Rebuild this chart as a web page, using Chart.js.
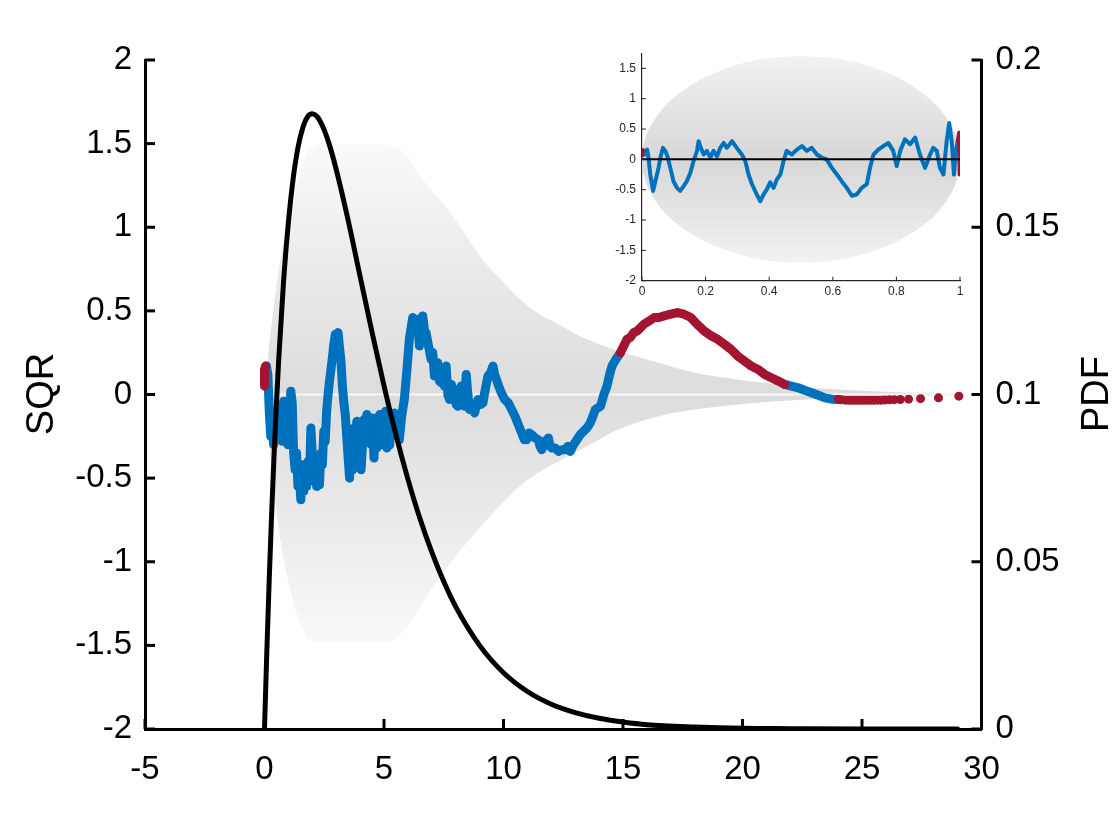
<!DOCTYPE html>
<html>
<head>
<meta charset="utf-8">
<title>SQR / PDF</title>
<script src="https://cdn.jsdelivr.net/npm/chart.js@4.4.1/dist/chart.umd.min.js"></script>
<style>
  body { margin: 0; background: #fff; }
  #wrap { position: relative; width: 1119px; height: 820px; }
  #main { position: absolute; left: 0; top: 0; }
  #inset { position: absolute; left: 590px; top: 40px; }
</style>
</head>
<body>
<div id="wrap">
  <canvas id="main" width="1119" height="820"></canvas>
  <canvas id="inset" width="390" height="270"></canvas>
</div>
<script>
// ---- main plot data ----
const bandX   = [0.08,0.15,0.35,0.55,0.76,1.0,1.32,1.6,1.9,2.5,3.5,4.5,5.5,6.0,6.5,7.3,8.2,9.0,10.0,11.1,12.3,13.5,14.8,16.5,18.0,19.5,21.0,22.5,24.0,26.5,29.3];
const bandUp  = [0,0.2,0.48,0.7,0.89,1.05,1.24,1.38,1.47,1.5,1.5,1.5,1.48,1.42,1.31,1.17,1.0,0.83,0.67,0.52,0.42,0.33,0.26,0.19,0.13,0.095,0.068,0.045,0.03,0.013,0.005];
const bandLow = [0,-0.2,-0.5,-0.75,-0.95,-1.12,-1.3,-1.4,-1.47,-1.48,-1.48,-1.48,-1.46,-1.38,-1.27,-1.1,-0.93,-0.8,-0.64,-0.5,-0.4,-0.31,-0.21,-0.13,-0.09,-0.065,-0.045,-0.032,-0.021,-0.012,-0.005];

const zeroX = [0.1, 29];
const zeroY = [0, 0];

const redStartX = [0.0, 0.0, 0.05];
const redStartY = [0.05, 0.15, 0.17];

const blueX = [
  0.05,0.08,0.14,0.2,0.26,0.32,0.38,0.44,0.5,0.56,
  0.62,0.68,0.74,0.8,0.86,0.92,0.98,1.04,1.1,1.16,
  1.22,1.28,1.34,1.4,1.46,1.52,1.58,1.64,1.7,1.76,
  1.82,1.88,1.94,2.0,2.06,2.12,2.18,2.24,2.3,2.36,
  2.42,2.48,2.54,2.6,2.66,2.72,2.78,2.84,2.9,2.96,
  3.02,3.08,3.14,3.2,3.26,3.32,3.38,3.44,3.5,3.56,
  3.62,3.68,3.74,3.8,3.86,3.92,3.98,4.04,4.1,4.16,
  4.22,4.28,4.34,4.4,4.46,4.52,4.58,4.64,4.7,4.76,
  4.82,4.88,4.94,5.0,5.06,5.12,5.18,5.24,5.3,5.36,
  5.43,5.54,5.64,5.75,5.85,5.96,6.06,6.2,6.3,6.41,
  6.48,6.55,6.62,6.7,6.76,6.85,6.97,7.04,7.11,7.18,
  7.25,7.32,7.39,7.46,7.53,7.6,7.67,7.74,7.82,7.88,
  7.95,8.02,8.09,8.16,8.23,8.3,8.37,8.44,8.51,8.58,
  8.68,8.79,8.93,9.04,9.14,9.25,9.35,9.46,9.56,9.63,
  9.7,9.8,9.91,10.05,10.2,10.34,10.48,10.62,10.76,10.87,
  10.97,11.08,11.18,11.32,11.46,11.53,11.6,11.74,11.88,11.95,
  12.02,12.16,12.3,12.44,12.58,12.69,12.79,12.93,13.07,13.21,
  13.35,13.49,13.63,13.74,13.84,13.95,14.06,14.2,14.33,14.44,
  14.54,14.7,14.89
];
const blueY = [
  0.17,0.17,0.12,-0.1,-0.25,-0.2,-0.3,-0.12,-0.22,-0.08,
  -0.26,-0.15,-0.28,-0.04,-0.2,-0.1,-0.3,-0.2,0.02,-0.05,
  -0.35,-0.45,-0.35,-0.55,-0.48,-0.63,-0.42,-0.58,-0.45,-0.55,
  -0.4,-0.52,-0.2,-0.35,-0.5,-0.38,-0.55,-0.4,-0.54,-0.35,
  -0.42,-0.22,-0.28,-0.1,0.0,0.08,0.15,0.22,0.3,0.36,
  0.3,0.37,0.28,0.2,0.05,-0.05,-0.12,-0.25,-0.38,-0.5,
  -0.3,-0.45,-0.2,-0.35,-0.16,-0.4,-0.2,-0.45,-0.3,-0.15,
  -0.28,-0.12,-0.25,-0.18,-0.3,-0.14,-0.38,-0.2,-0.32,-0.18,
  -0.12,-0.3,-0.15,-0.28,-0.1,-0.32,-0.2,-0.3,-0.12,-0.16,
  -0.11,-0.2,-0.27,-0.12,-0.03,0.15,0.33,0.46,0.38,0.45,
  0.29,0.4,0.47,0.38,0.37,0.3,0.21,0.25,0.11,0.16,
  0.19,0.08,0.07,0.14,0.05,0.17,0.0,-0.03,0.06,-0.02,
  0.03,-0.06,-0.07,0.02,0.05,-0.06,-0.07,0.12,0.0,-0.09,
  -0.06,-0.11,-0.03,-0.06,-0.05,0.04,0.11,0.13,0.17,0.12,
  0.09,0.05,0.01,-0.03,-0.05,-0.09,-0.13,-0.18,-0.23,-0.27,
  -0.27,-0.23,-0.24,-0.26,-0.27,-0.31,-0.33,-0.28,-0.26,-0.31,
  -0.32,-0.32,-0.34,-0.33,-0.33,-0.31,-0.34,-0.3,-0.27,-0.24,
  -0.22,-0.2,-0.17,-0.13,-0.09,-0.08,-0.07,0.0,0.05,0.12,
  0.17,0.21,0.25
];

const redMidX = [14.89,15.03,15.17,15.3,15.45,15.6,15.87,16.1,16.3,16.5,16.72,17.0,17.28,17.55,17.84,18.1,18.4,18.7,18.96,19.25,19.52,19.8,20.09,20.37,20.65,20.93,21.21,21.5,21.77];
const redMidY = [0.25,0.29,0.33,0.34,0.37,0.38,0.42,0.44,0.46,0.46,0.47,0.48,0.49,0.48,0.46,0.42,0.38,0.35,0.33,0.3,0.27,0.23,0.2,0.17,0.15,0.12,0.1,0.08,0.06];

const blueTailX = [21.77,22.05,22.33,22.6,22.89,23.17,23.45,23.73,24.01];
const blueTailY = [0.06,0.05,0.04,0.025,0.01,-0.005,-0.02,-0.028,-0.03];

const redTailX = [24.01,24.15,24.3,24.45,24.6,24.75,24.9,25.05,25.2,25.35,25.5,25.65,25.8,25.95,26.15,26.35,26.6,26.95,27.45,28.2,29.05];
const redTailY = [-0.03,-0.032,-0.034,-0.035,-0.035,-0.035,-0.035,-0.035,-0.035,-0.035,-0.035,-0.034,-0.034,-0.033,-0.032,-0.031,-0.03,-0.028,-0.025,-0.02,-0.01];

const pdfX = [0,0.1,0.2,0.3,0.4,0.5,0.6,0.8,1.0,1.2,1.4,1.6,1.8,2.0,2.2,2.4,2.7,3.0,3.5,4,4.5,5,5.5,6,6.5,7,7.5,8,9,10,11,12,13,14,15,16,18,20,22,25,29];
const pdfY = [0,0.0238,0.0452,0.0646,0.0819,0.0974,0.1111,0.1341,0.1516,0.1646,0.1738,0.1797,0.183,0.1839,0.1831,0.1807,0.175,0.1673,0.1521,0.1353,0.1186,0.1026,0.0879,0.0747,0.063,0.0529,0.0441,0.0366,0.025,0.0168,0.0112,0.0074,0.0049,0.0032,0.0021,0.0013,0.0006,0.0002,0.0001,0,0];

const xTicks = [-5, 0, 5, 10, 15, 20, 25, 30];

// ---- inset data ----
const ellX   = [0,0.002,0.008,0.02,0.035,0.05,0.075,0.1,0.15,0.2,0.25,0.3,0.4,0.5,0.6,0.7,0.75,0.8,0.85,0.9,0.925,0.95,0.965,0.98,0.992,0.998,1];
const ellUp  = [0,0.15,0.30,0.48,0.62,0.74,0.90,1.02,1.21,1.36,1.47,1.56,1.67,1.70,1.67,1.56,1.47,1.36,1.21,1.02,0.90,0.74,0.62,0.48,0.30,0.15,0];
const ellLow = [0,-0.15,-0.30,-0.48,-0.62,-0.74,-0.90,-1.02,-1.21,-1.36,-1.47,-1.56,-1.67,-1.70,-1.67,-1.56,-1.47,-1.36,-1.21,-1.02,-0.90,-0.74,-0.62,-0.48,-0.30,-0.15,0];

const insX = [
  0.005,0.01,0.016,0.02,0.026,0.035,0.042,0.052,0.058,0.066,
  0.073,0.08,0.089,0.099,0.11,0.12,0.131,0.141,0.152,0.162,
  0.173,0.178,0.185,0.194,0.204,0.215,0.225,0.236,0.246,0.257,
  0.267,0.283,0.298,0.314,0.325,0.335,0.346,0.361,0.372,0.382,
  0.393,0.403,0.414,0.424,0.435,0.445,0.455,0.471,0.487,0.503,
  0.518,0.534,0.55,0.565,0.581,0.597,0.613,0.628,0.644,0.66,
  0.675,0.691,0.707,0.717,0.728,0.743,0.759,0.775,0.79,0.801,
  0.812,0.827,0.843,0.859,0.874,0.89,0.906,0.916,0.927,0.937,
  0.948,0.958,0.966,0.974,0.981,0.987,0.993
];
const insY = [
  0.14,0.08,0.16,0.05,-0.25,-0.52,-0.36,-0.14,0.03,0.19,
  0.14,0.05,-0.14,-0.36,-0.47,-0.52,-0.44,-0.36,-0.22,-0.03,
  0.14,0.30,0.19,0.08,0.14,0.03,0.14,0.05,0.19,0.27,
  0.19,0.30,0.19,0.08,-0.03,-0.25,-0.41,-0.58,-0.69,-0.58,
  -0.49,-0.38,-0.47,-0.33,-0.25,-0.03,0.14,0.08,0.16,0.22,
  0.14,0.19,0.08,0.03,0.0,-0.14,-0.25,-0.36,-0.47,-0.60,
  -0.58,-0.47,-0.41,-0.14,0.08,0.16,0.22,0.27,0.14,-0.11,
  0.14,0.33,0.25,0.36,0.08,-0.14,0.08,0.19,0.14,-0.14,
  -0.25,0.30,0.60,0.30,-0.25,0.14,0.30
];
const insRedAX = [0, 0, 0.004];
const insRedAY = [0.06, 0.16, 0.14];
const insRedBX = [0.993, 0.997, 0.999, 1.0];
const insRedBY = [0.30, 0.44, -0.25, 0.2];
const insZeroX = [0, 1];
const insZeroY = [0, 0];

const BLUE = '#0072bd';
const RED = '#a2142f';

Chart.defaults.font.family = '"Liberation Sans", Arial, sans-serif';

function pts(xs, ys) {
  return xs.map((x, i) => ({ x: x, y: ys[i] }));
}

function line(data, color, width, order, extra) {
  return Object.assign({
    data: data,
    borderColor: color,
    borderWidth: width,
    pointRadius: 0,
    fill: false,
    tension: 0,
    borderJoinStyle: 'round',
    borderCapStyle: 'round',
    order: order
  }, extra || {});
}

// 2, 1.5, 0.15 ... without trailing zeros
const fmt = v => String(Math.round(v * 1000) / 1000);

// vertical grey gradient, light at the edges and darker near zero
function vGradient(scaleId, top, bottom, edge, mid) {
  return function (context) {
    const chart = context.chart;
    if (!chart.chartArea) return mid;
    const s = chart.scales[scaleId];
    const g = chart.ctx.createLinearGradient(0, s.getPixelForValue(top), 0, s.getPixelForValue(bottom));
    g.addColorStop(0, edge);
    g.addColorStop(0.5, mid);
    g.addColorStop(1, edge);
    return g;
  };
}

// ticks pointing inwards + rotated axis titles
const inwardTicks = {
  id: 'inwardTicks',
  afterDraw(chart, args, opts) {
    const ctx = chart.ctx;
    ctx.save();
    ctx.strokeStyle = opts.color;
    ctx.lineWidth = opts.width;
    opts.axes.forEach(id => {
      const s = chart.scales[id];
      s.ticks.forEach(t => {
        const p = s.getPixelForValue(t.value);
        ctx.beginPath();
        if (s.isHorizontal()) {
          ctx.moveTo(p, s.top);
          ctx.lineTo(p, s.top - opts.len);
        } else if (s.position === 'left') {
          ctx.moveTo(s.right, p);
          ctx.lineTo(s.right + opts.len, p);
        } else {
          ctx.moveTo(s.left, p);
          ctx.lineTo(s.left - opts.len, p);
        }
        ctx.stroke();
      });
    });
    (opts.titles || []).forEach(tt => {
      ctx.save();
      ctx.translate(tt.x, tt.y);
      ctx.rotate(-Math.PI / 2);
      ctx.font = tt.font;
      ctx.fillStyle = '#000';
      ctx.textAlign = 'center';
      ctx.textBaseline = 'middle';
      ctx.fillText(tt.text, 0, 0);
      ctx.restore();
    });
    ctx.restore();
  }
};

function halfSteps(scale) {
  scale.ticks = scale.ticks.filter(t => Math.abs(t.value * 2 - Math.round(t.value * 2)) < 1e-6);
}

const bigFont = { size: 33 };
const titleFont = '38px "Liberation Sans", Arial, sans-serif';

new Chart(document.getElementById('main'), {
  type: 'line',
  data: {
    datasets: [
      line(pts(pdfX, pdfY), '#000', 5, 0, { yAxisID: 'y2', cubicInterpolationMode: 'monotone' }),
      line(pts(redStartX, redStartY), RED, 9, 1),
      line(pts(redMidX, redMidY), RED, 9, 1),
      line(pts(redTailX, redTailY), RED, 0, 1, { showLine: false, pointRadius: 4.5, pointBackgroundColor: RED, pointBorderWidth: 0 }),
      line(pts(blueX, blueY), BLUE, 9, 2),
      line(pts(blueTailX, blueTailY), BLUE, 9, 2),
      line(pts(zeroX, zeroY), 'rgba(255,255,255,0.8)', 2, 3),
      line(pts(bandX, bandUp), 'rgba(0,0,0,0)', 0, 4, { fill: '+1', cubicInterpolationMode: 'monotone', backgroundColor: vGradient('y', 1.5, -1.5, '#f9f9f9', '#dcdcdc') }),
      line(pts(bandX, bandLow), 'rgba(0,0,0,0)', 0, 5, { cubicInterpolationMode: 'monotone' })
    ]
  },
  options: {
    responsive: false,
    animation: false,
    devicePixelRatio: 1,
    layout: { padding: { top: 60, left: 0, right: 0, bottom: 0 } },
    plugins: {
      legend: { display: false },
      tooltip: { enabled: false },
      inwardTicks: {
        axes: ['x', 'y', 'y2'], len: 10, width: 3, color: '#000',
        titles: [
          { text: 'SQR', x: 43, y: 394, font: titleFont },
          { text: 'PDF', x: 1098, y: 394, font: titleFont }
        ]
      }
    },
    scales: {
      x: {
        type: 'linear', min: -5, max: 30,
        afterBuildTicks: s => { s.ticks = xTicks.map(v => ({ value: v })); },
        afterFit: s => { s.height = 91; },
        grid: { display: false, drawTicks: false },
        border: { display: true, color: '#000', width: 3 },
        ticks: { font: bigFont, color: '#000', padding: 21, maxRotation: 0, callback: fmt }
      },
      y: {
        type: 'linear', position: 'left', min: -2, max: 2,
        ticks: { stepSize: 0.5, font: bigFont, color: '#000', padding: 13, callback: fmt },
        afterFit: s => { s.width = 145; },
        grid: { display: false, drawTicks: false },
        border: { display: true, color: '#000', width: 3 }
      },
      y2: {
        type: 'linear', position: 'right', min: 0, max: 0.2,
        ticks: { stepSize: 0.05, font: bigFont, color: '#000', padding: 14, callback: fmt },
        afterFit: s => { s.width = 137.5; },
        grid: { display: false, drawTicks: false },
        border: { display: true, color: '#000', width: 3 }
      }
    }
  },
  plugins: [inwardTicks]
});

const smallFont = { size: 12 };

new Chart(document.getElementById('inset'), {
  type: 'line',
  data: {
    datasets: [
      line(pts(insZeroX, insZeroY), '#000', 2, 0),
      line(pts(insRedAX, insRedAY), RED, 4, 1),
      line(pts(insRedBX, insRedBY), RED, 4, 1),
      line(pts(insX, insY), BLUE, 4, 2),
      line(pts(ellX, ellUp), 'rgba(0,0,0,0)', 0, 4, { fill: '+1', cubicInterpolationMode: 'monotone', backgroundColor: vGradient('y', 1.7, -1.7, '#f2f2f2', '#d7d7d7') }),
      line(pts(ellX, ellLow), 'rgba(0,0,0,0)', 0, 5, { cubicInterpolationMode: 'monotone' })
    ]
  },
  options: {
    responsive: false,
    animation: false,
    devicePixelRatio: 1,
    layout: { padding: { top: 10, left: 0, right: 20, bottom: 0 } },
    plugins: {
      legend: { display: false },
      tooltip: { enabled: false },
      inwardTicks: { axes: ['x', 'y'], len: 4, width: 1, color: '#262626' }
    },
    scales: {
      x: {
        type: 'linear', min: 0, max: 1,
        ticks: { stepSize: 0.2, font: smallFont, color: '#262626', padding: 4, maxRotation: 0, callback: fmt },
        afterFit: s => { s.height = 29.3; },
        grid: { display: false, drawTicks: false },
        border: { display: true, color: '#262626', width: 1.2 }
      },
      y: {
        type: 'linear', min: -2, max: 1.75,
        ticks: { stepSize: 0.5, font: smallFont, color: '#262626', padding: 6, callback: fmt },
        afterBuildTicks: halfSteps,
        afterFit: s => { s.width = 52; },
        grid: { display: false, drawTicks: false },
        border: { display: true, color: '#262626', width: 1.2 }
      }
    }
  },
  plugins: [inwardTicks]
});
</script>
</body>
</html>
